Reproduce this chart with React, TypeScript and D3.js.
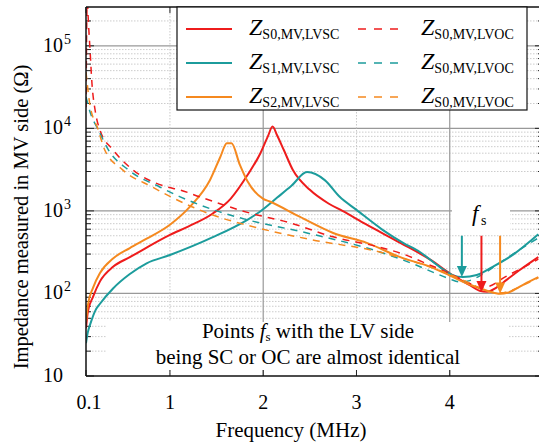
import React from "react";
import * as d3 from "d3";

// frequencies (MHz) and impedances (ohm)
const fS0SC = [0.1, 0.12, 0.175, 0.25, 0.39, 0.57, 0.75, 1.0, 1.2, 1.46, 1.65, 1.83, 1.97, 2.05, 2.1, 2.15, 2.22, 2.32, 2.5, 2.7, 2.85, 3.1, 3.47, 3.79, 4.03, 4.21, 4.32, 4.4, 4.5, 4.61, 4.75, 4.95];
const zS0SC = [38, 60, 91, 140, 210, 275, 360, 512, 650, 930, 1400, 2700, 5000, 8000, 10500, 8200, 5500, 3100, 1800, 1230, 1000, 690, 410, 257, 167, 127, 108, 105, 118, 146, 192, 276];

const fS1SC = [0.1, 0.12, 0.15, 0.2, 0.25, 0.39, 0.57, 0.75, 1.0, 1.46, 1.83, 1.96, 2.15, 2.3, 2.47, 2.66, 2.82, 3.0, 3.28, 3.5, 3.68, 3.89, 4.03, 4.14, 4.29, 4.46, 4.68, 4.95];
const zS1SC = [25, 34, 44, 62, 75, 115, 172, 232, 292, 480, 780, 970, 1450, 2000, 2950, 2360, 1480, 1030, 590, 410, 318, 210, 167, 158, 167, 210, 295, 520];

const fS2SC = [0.1, 0.12, 0.175, 0.25, 0.39, 0.57, 0.75, 1.0, 1.21, 1.43, 1.54, 1.61, 1.66, 1.75, 1.83, 2.0, 2.07, 2.39, 2.75, 3.11, 3.47, 3.79, 4.0, 4.2, 4.4, 4.54, 4.62, 4.7, 4.8, 4.95];
const zS2SC = [46, 72, 117, 177, 265, 355, 460, 680, 1110, 2370, 4500, 6600, 6600, 3600, 2300, 1400, 1300, 850, 540, 410, 275, 210, 165, 130, 108, 99, 102, 112, 130, 158];

const fS0OC = [0.1, 0.107, 0.113, 0.121, 0.143, 0.164, 0.2, 0.25, 0.39, 0.6, 0.97, 1.11, 1.32, 1.83, 2.3, 2.75, 3.22, 3.5, 3.79, 4.0, 4.2, 4.32, 4.42, 4.6, 4.8, 4.95];
const zS0OC = [18000, 150000, 400000, 250000, 90000, 35000, 16000, 9500, 5500, 3160, 1950, 1790, 1480, 960, 710, 485, 370, 300, 220, 175, 135, 118, 122, 160, 210, 260];

const fS1OC = [0.1, 0.15, 0.23, 0.34, 0.55, 0.89, 1.11, 1.5, 1.83, 2.47, 3.25, 3.6, 3.85, 4.0, 4.1, 4.2, 4.35, 4.55, 4.75, 4.95];
const zS1OC = [24000, 15000, 9700, 5500, 3160, 1950, 1480, 1000, 780, 540, 318, 230, 175, 150, 138, 142, 170, 240, 340, 470];

const fS2OC = [0.1, 0.14, 0.23, 0.3, 0.49, 0.81, 1.0, 1.46, 1.83, 2.53, 3.25, 3.6, 3.79, 4.0, 4.2, 4.35, 4.45, 4.55, 4.65, 4.8, 4.95];
const zS2OC = [48000, 20000, 9700, 5500, 3160, 1950, 1500, 890, 670, 445, 318, 245, 210, 170, 135, 113, 104, 102, 108, 128, 155];

// f_s arrows: frequency, top value, tip value
const fsFreq = [4.13, 4.34, 4.54];
const fsTop = [500, 500, 500];
const fsTip = [158, 104, 100];

const xTicks = [0.1, 1, 2, 3, 4];
const yExps = [1, 2, 3, 4, 5];

const RED = "#ee1c1c";
const TEAL = "#1c9c9c";
const ORANGE = "#f5891f";

const series = [
    {f: fS0SC, z: zS0SC, color: RED, dash: false, sub: "S0,MV,LVSC"},
    {f: fS1SC, z: zS1SC, color: TEAL, dash: false, sub: "S1,MV,LVSC"},
    {f: fS2SC, z: zS2SC, color: ORANGE, dash: false, sub: "S2,MV,LVSC"},
    {f: fS0OC, z: zS0OC, color: RED, dash: true, sub: "S0,MV,LVOC"},
    {f: fS1OC, z: zS1OC, color: TEAL, dash: true, sub: "S0,MV,LVOC"},
    {f: fS2OC, z: zS2OC, color: ORANGE, dash: true, sub: "S0,MV,LVOC"},
];

const FONT = "'Liberation Serif', 'Times New Roman', 'DejaVu Serif', serif";

export default function App() {
    const left = 86, right = 543, top = 7, bottom = 376;

    const x = d3.scaleLinear().domain([0.1, 5]).range([left, right]);
    const y = d3.scaleLog().domain([10, 10 ** 5.47]).range([bottom, top]);

    const line = d3
        .line<[number, number]>()
        .x((d) => x(d[0]))
        .y((d) => y(d[1]))
        .curve(d3.curveMonotoneX);

    const minor: number[] = [];
    for (let e = 1; e <= 5; e++) {
        for (let m = 2; m <= 9; m++) {
            const v = m * 10 ** e;
            if (v < 10 ** 5.47) minor.push(v);
        }
    }

    return (
        <svg width={539} height={445} style={{position: "absolute", left: 0, top: 0, fontFamily: FONT}}>
            <defs>
                <clipPath id="plot">
                    <rect x={left} y={top} width={right - left} height={bottom - top}/>
                </clipPath>
            </defs>
            <rect width={539} height={445} fill="white"/>

            {/* grid */}
            {minor.map((v) => (
                <line key={"m" + v} x1={left} x2={right} y1={y(v)} y2={y(v)}
                      stroke="#cccccc" strokeWidth={1} strokeDasharray="1.5,1.5"/>
            ))}
            {yExps.slice(1).map((e) => (
                <line key={"M" + e} x1={left} x2={right} y1={y(10 ** e)} y2={y(10 ** e)}
                      stroke="#999" strokeWidth={1.2}/>
            ))}
            {[1, 3].map((v) => (
                <line key={"vx" + v} x1={x(v)} x2={x(v)} y1={top} y2={bottom}
                      stroke="#c8c8c8" strokeWidth={1} strokeDasharray="1.5,1.5"/>
            ))}
            {[2, 4].map((v) => (
                <line key={"vX" + v} x1={x(v)} x2={x(v)} y1={top} y2={bottom}
                      stroke="#999" strokeWidth={1.2}/>
            ))}

            {/* white boxes under annotations */}
            <rect x={107} y={322} width={401} height={48} fill="white"/>
            <rect x={452} y={195} width={58} height={37} fill="white"/>

            {/* ticks */}
            {yExps.map((e) => (
                <g key={"yt" + e}>
                    <line x1={left} x2={left + 8} y1={y(10 ** e)} y2={y(10 ** e)} stroke="#222"/>
                    <line x1={right - 8} x2={right} y1={y(10 ** e)} y2={y(10 ** e)} stroke="#222"/>
                </g>
            ))}
            {minor.map((v) => (
                <g key={"ymt" + v}>
                    <line x1={left} x2={left + 5} y1={y(v)} y2={y(v)} stroke="#222"/>
                    <line x1={right - 5} x2={right} y1={y(v)} y2={y(v)} stroke="#222"/>
                </g>
            ))}
            {xTicks.map((v) => (
                <g key={"xt" + v}>
                    <line x1={x(v)} x2={x(v)} y1={bottom} y2={bottom - 6} stroke="#222"/>
                    <line x1={x(v)} x2={x(v)} y1={top} y2={top + 6} stroke="#222"/>
                </g>
            ))}

            {/* curves */}
            <g clipPath="url(#plot)">
                {series.map((s, i) => (
                    <path key={"s" + i}
                          d={line(s.f.map((f, j) => [f, s.z[j]] as [number, number])) || ""}
                          fill="none" stroke={s.color}
                          strokeWidth={s.dash ? 1.5 : 2}
                          strokeDasharray={s.dash ? "7,6" : undefined}/>
                ))}
            </g>

            {/* f_s arrows */}
            {fsFreq.map((f, i) => {
                const c = [TEAL, RED, ORANGE][i];
                const xa = x(f), y0 = y(fsTop[i]), y1 = y(fsTip[i]);
                return (
                    <g key={"ar" + i}>
                        <line x1={xa} x2={xa} y1={y0} y2={y1 - 9} stroke={c} strokeWidth={2}/>
                        <path d={`M${xa - 5},${y1 - 11} L${xa + 5},${y1 - 11} L${xa},${y1} Z`} fill={c}/>
                    </g>
                );
            })}
            <text x={472} y={221} fontSize={23} fontStyle="italic">f</text>
            <text x={481} y={225} fontSize={14}>s</text>

            {/* frame */}
            <line x1={left} x2={left} y1={top} y2={bottom} stroke="#111" strokeWidth={1.5}/>
            <line x1={left} x2={right} y1={bottom} y2={bottom} stroke="#111" strokeWidth={1.5}/>
            <line x1={left} x2={right} y1={top} y2={top} stroke="#111" strokeWidth={1.5}/>

            {/* legend */}
            <rect x={177} y={7} width={350} height={103} fill="white" stroke="#111" strokeWidth={1.2}/>
            {series.map((s, i) => {
                const col = i < 3 ? 0 : 1;
                const row = i % 3;
                const ly = 29 + row * 34;
                const lx = col === 0 ? 186 : 358;
                const tx = col === 0 ? 249 : 421;
                return (
                    <g key={"lg" + i}>
                        <line x1={lx} x2={lx + 46} y1={ly} y2={ly} stroke={s.color}
                              strokeWidth={s.dash ? 1.6 : 2}
                              strokeDasharray={s.dash ? "8,8" : undefined}/>
                        <text x={tx} y={ly + 6} fontSize={24}>
                            <tspan fontStyle="italic">Z</tspan>
                            <tspan fontSize={14} dy={4}>{s.sub}</tspan>
                        </text>
                    </g>
                );
            })}

            {/* annotation */}
            <text x={308} y={338} fontSize={21} textAnchor="middle">
                Points <tspan fontStyle="italic">f</tspan><tspan fontSize={13} dy={3}>s</tspan><tspan dy={-3}> with the LV side</tspan>
            </text>
            <text x={308} y={364} fontSize={21} textAnchor="middle">being SC or OC are almost identical</text>

            {/* axis labels */}
            {xTicks.map((v) => (
                <text key={"xl" + v} x={x(v) + (v < 1 ? 3 : 0)} y={409} fontSize={20} textAnchor="middle">{v}</text>
            ))}
            {yExps.map((e) => (
                <g key={"yl" + e}>
                    <text x={63} y={y(10 ** e) + 6} fontSize={20} textAnchor="end">10</text>
                    {e > 1 && <text x={64} y={y(10 ** e) - 2} fontSize={14}>{e}</text>}
                </g>
            ))}
            <text x={291} y={437} fontSize={21} textAnchor="middle">Frequency (MHz)</text>
            <text transform="translate(28,217) rotate(-90)" fontSize={20.5} textAnchor="middle">
                Impedance measured in MV side (Ω)
            </text>
        </svg>
    );
}
